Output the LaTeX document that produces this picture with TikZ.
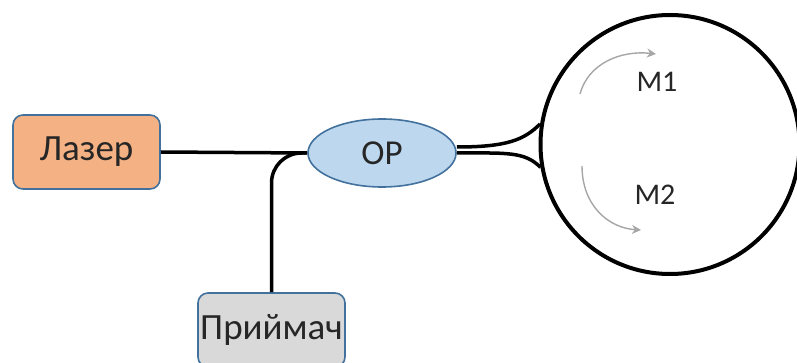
\documentclass[tikz,border=0pt]{standalone}
\usepackage{fontspec}
\setmainfont{Carlito}
\usepackage{tikz}
\usetikzlibrary{shapes.geometric, arrows.meta, positioning}

\definecolor{edgeblue}{HTML}{41719C}
\definecolor{laserorange}{HTML}{F4B183}
\definecolor{splitblue}{HTML}{BDD7EE}
\definecolor{rxgray}{HTML}{D9D9D9}
\definecolor{modegray}{HTML}{A6A6A6}

\begin{document}
\begin{tikzpicture}[
    x=1pt, y=-1pt,
    dev box/.style = {
        rectangle,
        rounded corners=10pt,
        draw=edgeblue,
        line width=1.6pt,
        minimum width=147pt,
        minimum height=74pt,
        inner xsep=2pt,
        font=\fontsize{37}{40}\selectfont,
        text=black!85,
        fill=#1
    },
    splitter/.style = {
        ellipse,
        draw=edgeblue,
        line width=1.6pt,
        fill=splitblue,
        minimum width=148pt,
        minimum height=68pt,
        inner sep=0pt,
        font=\fontsize{35}{38}\selectfont,
        text=black!85
    },
    fiber/.style = {line width=3.5pt, black},
    ring/.style = {circle, draw, line width=4pt, minimum size=259pt, inner sep=0pt},
    mode arrow/.style = {->, >={Stealth[length=9pt, width=9pt]}, modegray, line width=1.4pt},
    mode label/.style = {font=\fontsize{30}{32}\selectfont, text=black!85}
]

\useasboundingbox (0,0) rectangle (797,363);

\node[dev box=laserorange] (laser) at (86.5,152) {Лазер};
\node[splitter] (op) at (382,153) {ОР};
\node[dev box=rxgray] (rx) at (271.5,330) {Приймач};
\node[ring] (loop) at (670,144.5) {};

% input and output arms of the coupler
\draw[fiber] (laser.east) -- (op.west);
\draw[fiber, rounded corners=30pt] (rx.north) |- (op.west);

% the two ends of the fibre loop
\draw[fiber] ([yshift=6pt]op.east) .. controls +(50,0) and +(-16,16) .. (loop.171);
\draw[fiber] (op.east) .. controls +(50,0) and +(-16,-16) .. (loop.190);

% counter-propagating modes
\node[mode label] (m1) at (657,82) {M1};
\node[mode label] (m2) at (655,195) {M2};
\coordinate (m1 tail) at (580,94);
\coordinate (m1 head) at (656,54);
\coordinate (m2 tail) at (582,166);
\coordinate (m2 head) at (641,230);
\draw[mode arrow] (m1 tail) .. controls (588,64) and (620,50) .. (m1 head);
\draw[mode arrow] (m2 tail) .. controls (582,205) and (608,228) .. (m2 head);

\end{tikzpicture}
\end{document}
